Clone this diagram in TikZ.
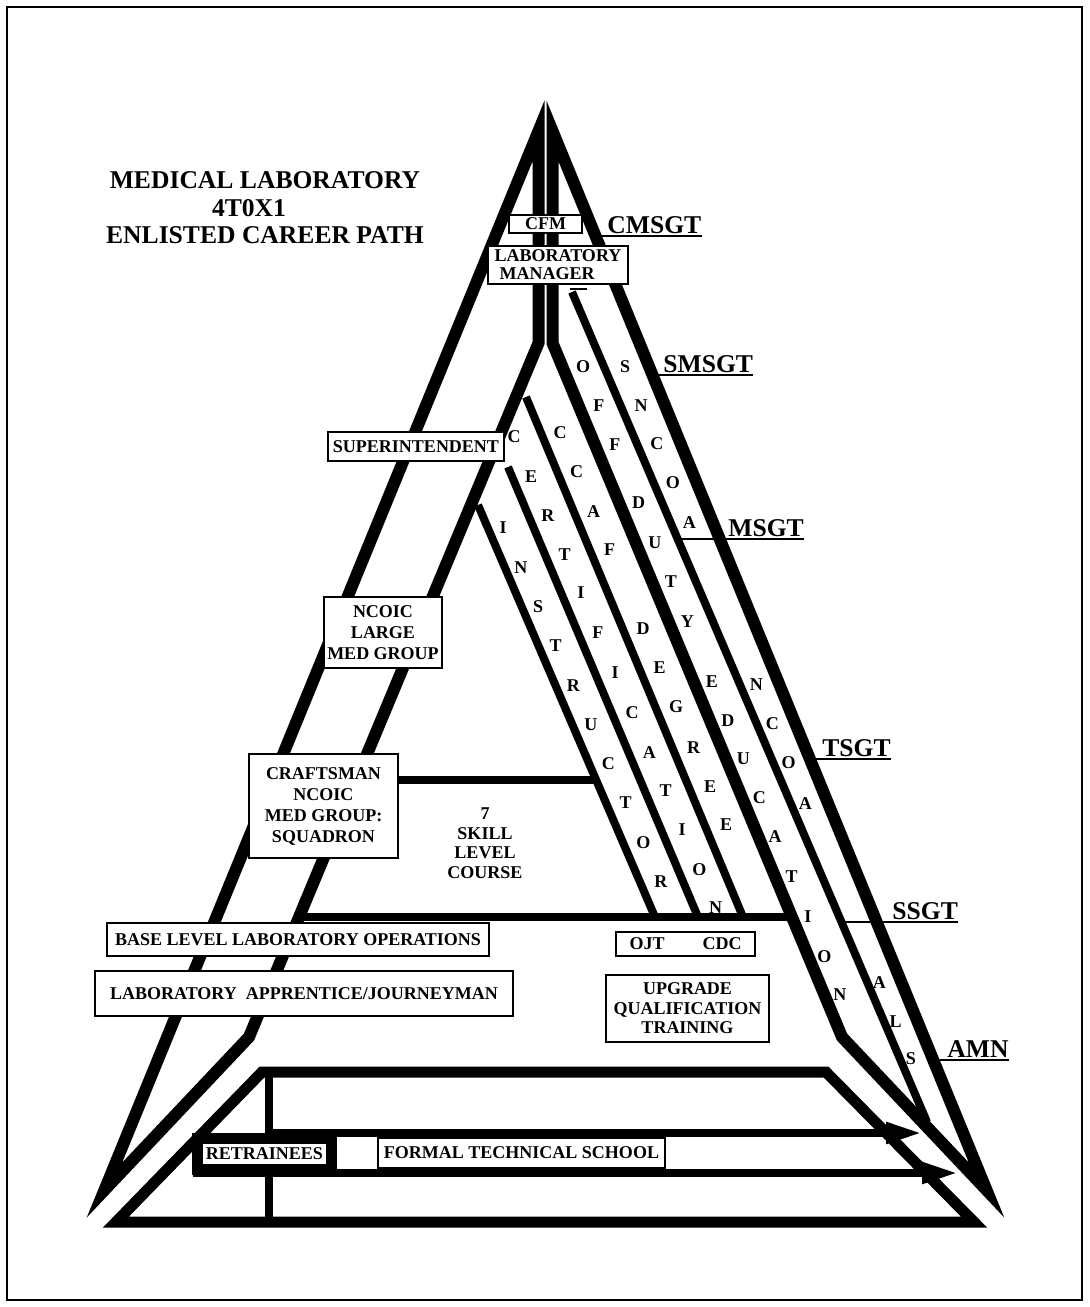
\documentclass[tikz,border=0pt]{standalone}
\usepackage{fontspec}
\setmainfont{Liberation Serif}
\usetikzlibrary{arrows.meta,fit}

\begin{document}
\begin{tikzpicture}[x=0.5pt,y=-0.5pt,
  heavy/.style={line width=6pt,line join=miter},
  slim/.style={line width=4pt},
  trapline/.style={line width=5.5pt,line join=miter},
  cbox/.style={draw,line width=0.75pt,fill=white,inner sep=0pt,align=center,
    font=\bfseries\fontsize{9}{10.5}\selectfont},
  letter/.style={inner sep=0pt,font=\bfseries\fontsize{9}{9}\selectfont},
  rank/.style={anchor=south west,inner xsep=0pt,inner ysep=1pt,text depth=0pt,
    font=\bfseries\fontsize{12.8}{14}\selectfont},
  rankline/.style={line width=1pt},
  feed/.style={line width=4pt,-{Triangle[length=18pt,width=10pt]}}]

\useasboundingbox (0,0) rectangle (1089,1307);
\draw[line width=1pt] (7,7) rectangle (1082,1300);

\node[font=\bfseries\fontsize{12.8}{13.75}\selectfont,align=center] (title) at (265,208)
  {MEDICAL LABORATORY\\4T0X1\hspace*{16pt}\mbox{}\\ENLISTED CAREER PATH};

% the two sides of the pyramid
\coordinate (aL) at (538.5,131);
\coordinate (bL) at (538.5,343);
\coordinate (cL) at (249,1037);
\coordinate (dL) at (104.5,1190);
\coordinate (aR) at (552.5,131);
\coordinate (bR) at (552.5,343);
\coordinate (cR) at (842,1037);
\coordinate (dR) at (986.5,1190);
\draw[heavy] (aL) -- (bL) -- (cL) -- (dL) -- cycle;
\draw[heavy] (aR) -- (bR) -- (cR) -- (dR) -- cycle;

% inner lanes
\coordinate (insT) at (478,505);
\coordinate (insB) at (655,917);
\coordinate (cerT) at (508,467);
\coordinate (cerB) at (698,917);
\coordinate (ccfT) at (526,397);
\coordinate (ccfB) at (743,917);
\coordinate (ncoT) at (572,292);
\coordinate (ncoB) at (927,1122);
\draw[slim] (insT) -- (insB);
\draw[slim] (cerT) -- (cerB);
\draw[slim] (ccfT) -- (ccfB);
\draw[slim] (ncoT) -- (ncoB);
\draw[rankline] (570,289) -- (587,289);

\coordinate (h7L) at (356,780);
\coordinate (h7R) at (597,780);
\coordinate (h5L) at (299,917);
\coordinate (h5R) at (793,917);
\draw[slim] (h7L) -- (h7R);
\draw[slim] (h5L) -- (h5R);

% training base
\coordinate (tl) at (262,1072);
\coordinate (tr) at (826,1072);
\coordinate (br) at (974,1222);
\coordinate (bl) at (116,1222);
\draw[trapline] (tl) -- (tr) -- (br) -- (bl) -- cycle;
\coordinate (vT) at (269,1072);
\coordinate (vB) at (269,1222);
\draw[slim] (vT) -- (vB);
\coordinate (upS) at (269,1133);
\coordinate (upE) at (922,1133);
\coordinate (loS) at (193,1173);
\coordinate (loE) at (958,1173);
\draw[feed] (upS) -- (upE);
\draw[feed] (loS) -- (loE);

% boxes
\node[cbox,minimum width=36.5pt,minimum height=9pt] (cfm) at (545.5,224) {CFM};
\node[cbox,minimum width=70pt,minimum height=19pt,align=left,
  font=\bfseries\fontsize{9}{8.9}\selectfont] (mgr) at (558,265)
  {LABORATORY\\\hspace*{2.5pt}MANAGER};
\node[cbox,line width=1pt,minimum width=88pt,minimum height=14.5pt] (supt) at (416,446.5) {SUPERINTENDENT};
\node[cbox,minimum width=59pt,minimum height=35.5pt] (ncoic) at (383,632.5) {NCOIC\\LARGE\\MED GROUP};
\node[cbox,minimum width=74.5pt,minimum height=52pt] (crafts) at (323.5,806)
  {CRAFTSMAN\\NCOIC\\MED GROUP:\\SQUADRON};
\node[align=center,inner sep=0pt,font=\bfseries\fontsize{9}{9.75}\selectfont] (skill) at (485,843)
  {7\\SKILL\\LEVEL\\COURSE};
\node[cbox,minimum width=191pt,minimum height=16.5pt] (baselvl) at (298,939.5) {BASE LEVEL LABORATORY OPERATIONS};
\node[cbox,minimum width=209pt,minimum height=22.5pt] (appr) at (304,993.5) {LABORATORY\ \ APPRENTICE/JOURNEYMAN};
\node[cbox,minimum width=69.5pt,minimum height=12pt] (ojt) at (685.5,944) {OJT\hspace{19pt}CDC};
\node[cbox,minimum width=81.5pt,minimum height=33.5pt,font=\bfseries\fontsize{9}{9.75}\selectfont] (uqt)
  at (687.5,1008.5) {UPGRADE\\QUALIFICATION\\TRAINING};
\node[cbox,minimum width=62.5pt,minimum height=11pt] (retr) at (264.5,1154) {RETRAINEES};
\node[draw,line width=4.5pt,fit=(retr),inner sep=2.25pt] (retframe) {};
\node[cbox,minimum width=143.5pt,minimum height=15pt] (school) at (521.5,1153) {FORMAL TECHNICAL SCHOOL};

% lane lettering
\foreach \ch/\yy in {I/528,N/568,S/607,T/646,R/686,U/725,C/764,T/803,O/843,R/882}
  \node[letter] (ins-\yy) at ({503+0.446*(\yy-528)},\yy) {\ch};
\foreach \ch/\yy in {C/437,E/477,R/516,T/555,I/593,F/633,I/673,C/713,A/753,T/791,I/830,O/870,N/908}
  \node[letter] (cer-\yy) at ({514+0.428*(\yy-437)},\yy) {\ch};
\foreach \ch/\yy in {C/433,C/472,A/512,F/550,D/629,E/668,G/707,R/748,E/787,E/825}
  \node[letter] (ccf-\yy) at ({560+0.424*(\yy-433)},\yy) {\ch};
\foreach \ch/\yy in {O/367,F/406,F/445,D/503,U/543,T/582,Y/622,E/682,D/721,U/759,C/798,A/837,T/877,I/917,O/957,N/995}
  \node[letter] (edu-\yy) at ({583+0.409*(\yy-367)},\yy) {\ch};
\foreach \ch/\yy in {S/367,N/406,C/444,O/483,A/523,N/685,C/724,O/763,A/804,A/983,L/1022,S/1059}
  \node[letter] (pme-\yy) at ({625+0.413*(\yy-367)},\yy) {\ch};

% ranks
\node[rank] (cmsgt) at (607,236) {CMSGT};
\node[rank] (smsgt) at (663,375) {SMSGT};
\node[rank] (msgt) at (728,539) {MSGT};
\node[rank] (tsgt) at (822,759) {TSGT};
\node[rank] (ssgt) at (892,922) {SSGT};
\node[rank] (amn) at (947,1060) {AMN};
\coordinate (cmsgtL) at (596,236);
\coordinate (smsgtL) at (653,375);
\coordinate (msgtL) at (678,539);
\coordinate (tsgtL) at (810,759);
\coordinate (ssgtL) at (842,922);
\coordinate (amnL) at (933,1060);
\draw[rankline] (cmsgtL) -- (cmsgt.south east);
\draw[rankline] (smsgtL) -- (smsgt.south east);
\draw[rankline] (msgtL) -- (msgt.south east);
\draw[rankline] (tsgtL) -- (tsgt.south east);
\draw[rankline] (ssgtL) -- (ssgt.south east);
\draw[rankline] (amnL) -- (amn.south east);
\end{tikzpicture}
\end{document}
